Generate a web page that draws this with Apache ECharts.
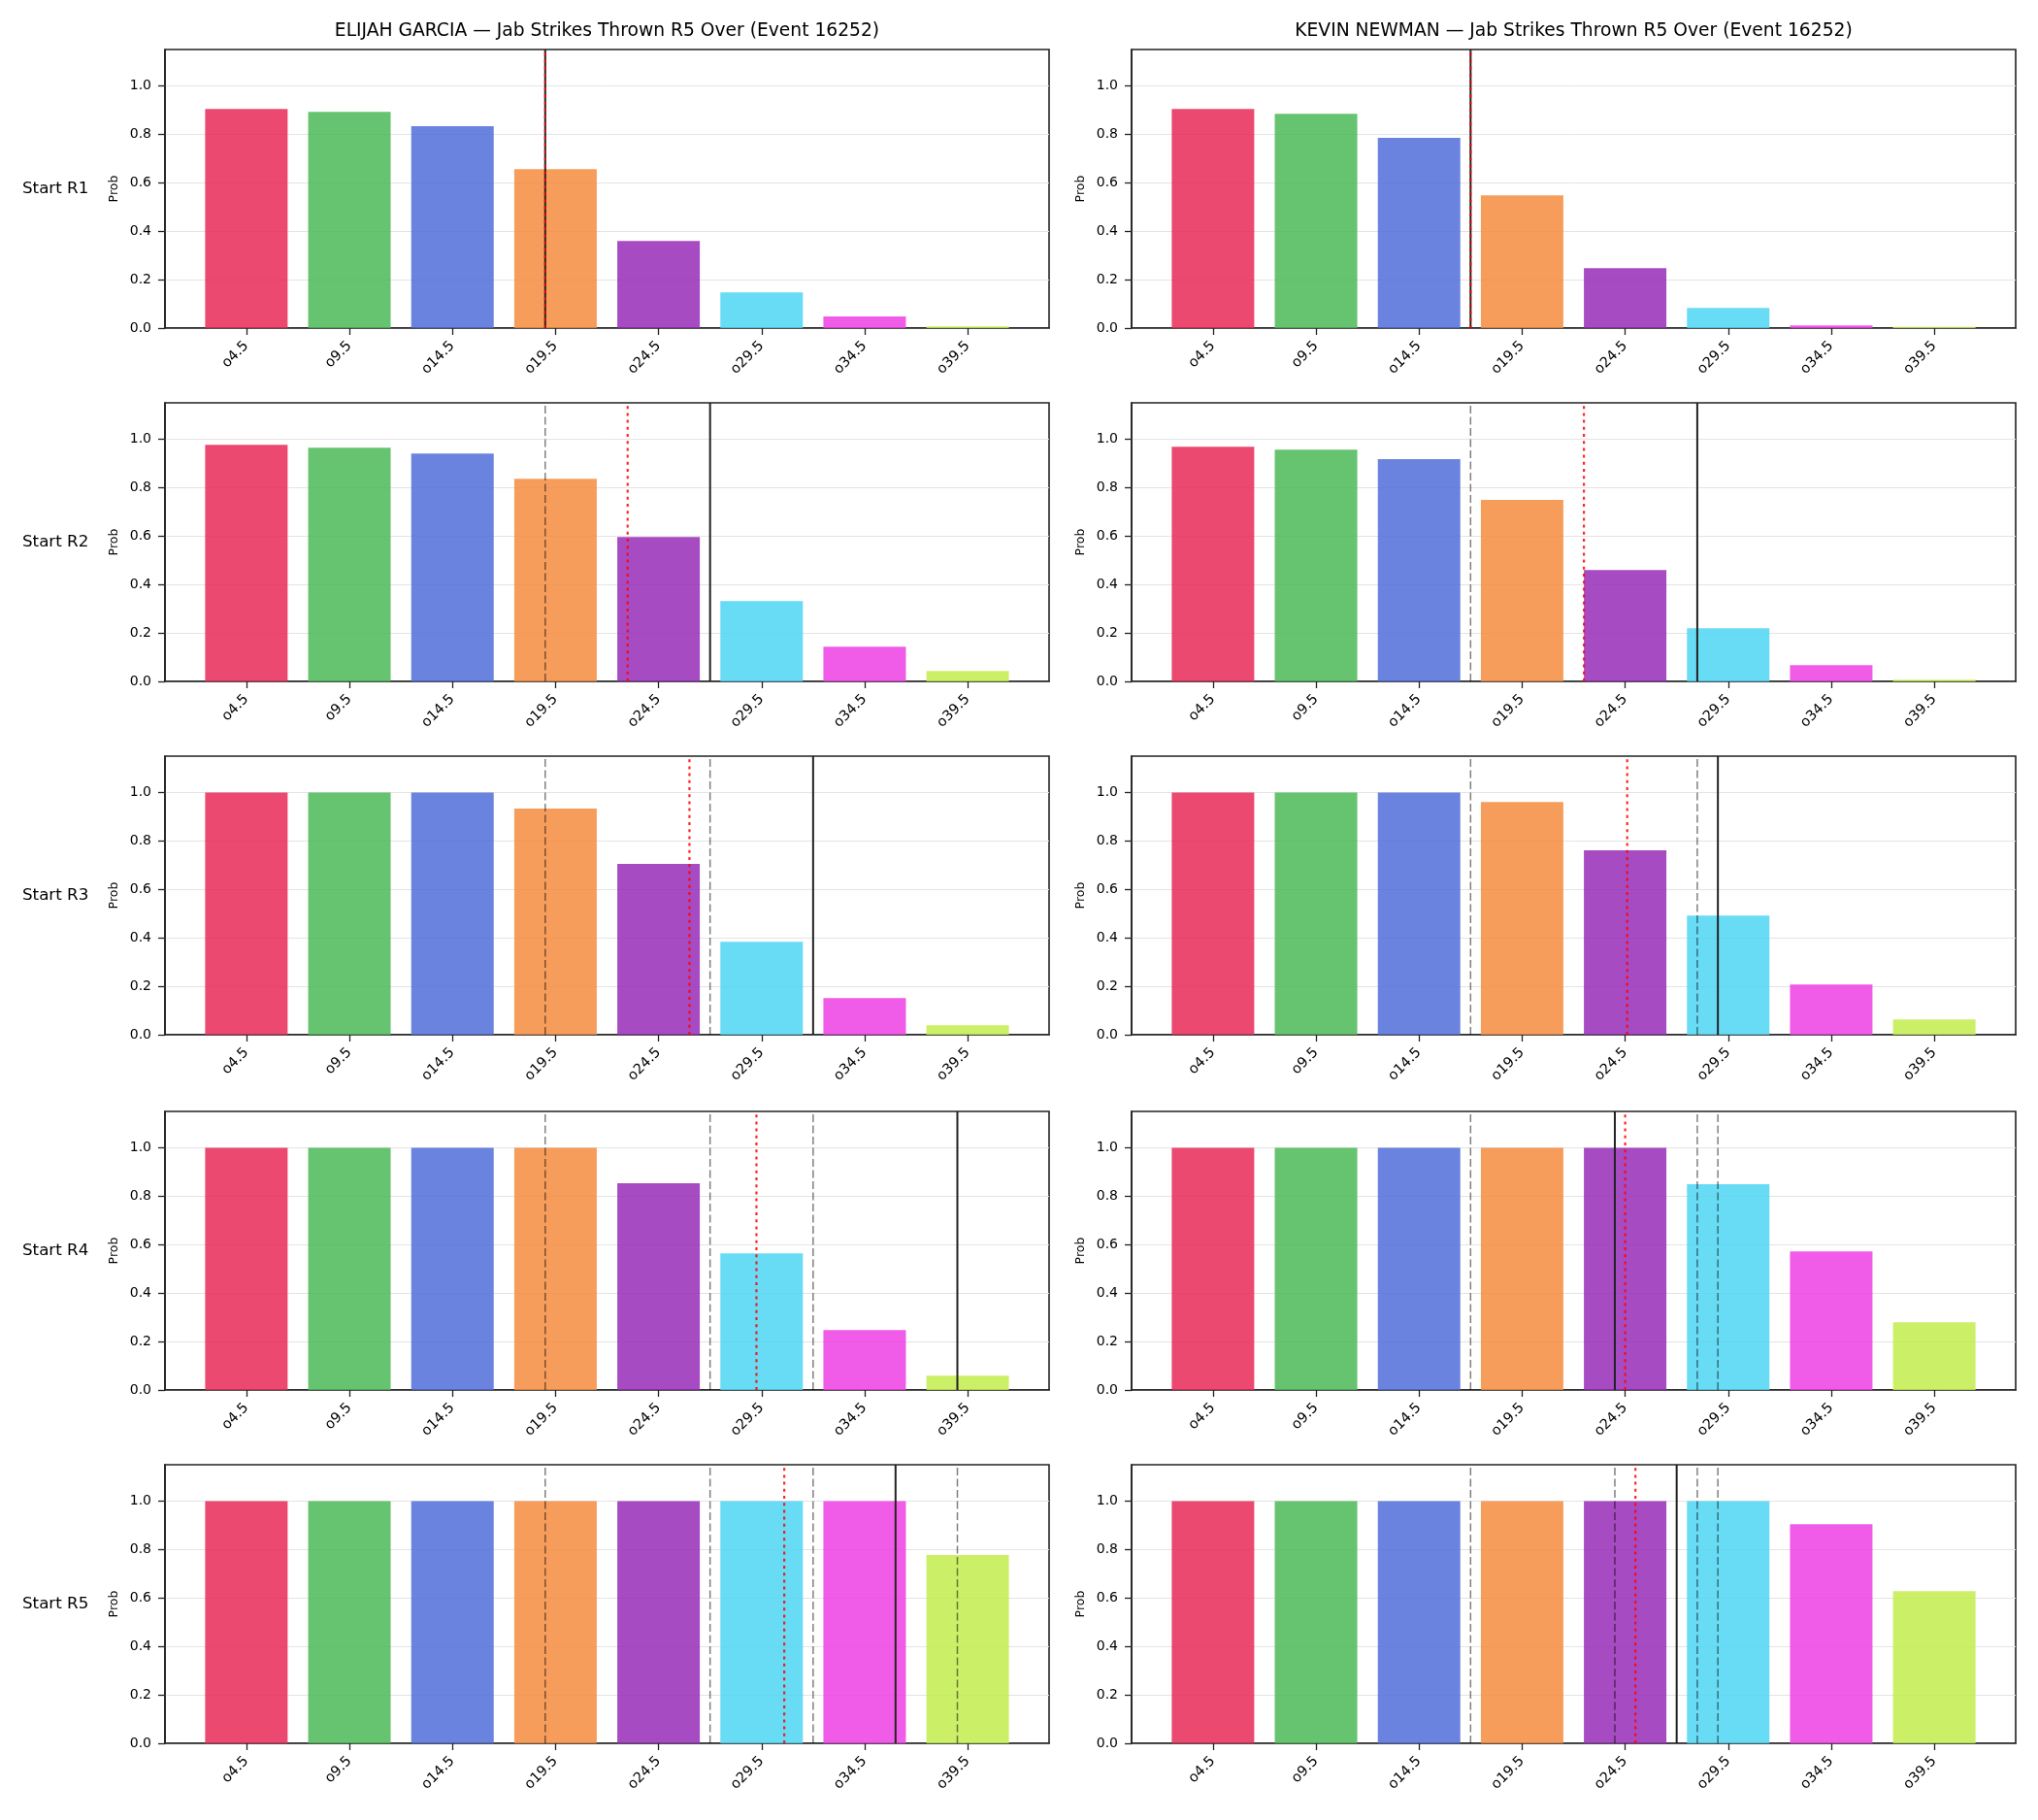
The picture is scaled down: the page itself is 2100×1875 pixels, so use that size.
<!DOCTYPE html>
<html>
<head>
<meta charset="utf-8">
<script src="https://cdn.jsdelivr.net/npm/echarts@6/dist/echarts.min.js"></script>
<style>
  html, body { margin: 0; background: #fff; }
  #chart { width: 2100px; height: 1875px; }
</style>
</head>
<body>
<div id="chart"></div>
<script>
// tick labels / lines
const categories = ['o4.5', 'o9.5', 'o14.5', 'o19.5', 'o24.5', 'o29.5', 'o34.5', 'o39.5'];
const lineValues = [4.5, 9.5, 14.5, 19.5, 24.5, 29.5, 34.5, 39.5];
const barColors = ['#E92957', '#4BB856', '#506DD8', '#F48C3E', '#962CB6', '#4DD5F3', '#ED3EE4', '#C3EC4D'];
const fighters = ['ELIJAH GARCIA', 'KEVIN NEWMAN'];
const rowLabels = ['Start R1', 'Start R2', 'Start R3', 'Start R4', 'Start R5'];
const yTicks = [0, 0.2, 0.4, 0.6, 0.8, 1.0];

// over probabilities, one array per starting round
const garciaR1 = [0.905, 0.893, 0.833, 0.656, 0.360, 0.147, 0.048, 0.007];
const garciaR2 = [0.977, 0.965, 0.941, 0.836, 0.596, 0.332, 0.143, 0.043];
const garciaR3 = [1.0, 1.0, 1.0, 0.934, 0.705, 0.384, 0.151, 0.039];
const garciaR4 = [1.0, 1.0, 1.0, 1.0, 0.853, 0.564, 0.247, 0.059];
const garciaR5 = [1.0, 1.0, 1.0, 1.0, 1.0, 1.0, 1.0, 0.777];

const newmanR1 = [0.905, 0.885, 0.785, 0.548, 0.247, 0.083, 0.011, 0.005];
const newmanR2 = [0.969, 0.957, 0.918, 0.749, 0.460, 0.219, 0.067, 0.007];
const newmanR3 = [1.0, 1.0, 1.0, 0.961, 0.761, 0.492, 0.207, 0.063];
const newmanR4 = [1.0, 1.0, 1.0, 1.0, 1.0, 0.849, 0.572, 0.279];
const newmanR5 = [1.0, 1.0, 1.0, 1.0, 1.0, 1.0, 0.905, 0.628];

// strike counts marked by vertical lines (solid = current, dotted = projection)
const garciaCurrent = [19, 27, 32, 39, 36];
const garciaProjected = [19, 23, 26, 29.25, 30.6];
const newmanCurrent = [17, 28, 29, 24, 27];
const newmanProjected = [17, 22.5, 24.6, 24.5, 25.0];

const panels = [
  { probs: [garciaR1, garciaR2, garciaR3, garciaR4, garciaR5], current: garciaCurrent, projected: garciaProjected },
  { probs: [newmanR1, newmanR2, newmanR3, newmanR4, newmanR5], current: newmanCurrent, projected: newmanProjected }
];

const FONT = 'DejaVu Sans';
const colLeft = [170, 1166];
const colWidth = 911;
const rowTop = [51, 415, 779, 1145, 1509];
const rowHeight = 287;

// count -> bar position on the x axis
function toPos(v) {
  return (v - lineValues[0]) / (lineValues[1] - lineValues[0]);
}

const chart = echarts.init(document.getElementById('chart'));
const grid = [], xAxis = [], yAxis = [], series = [], graphic = [];

function vline(idx, v, style, z) {
  const x = toPos(v);
  series.push({
    type: 'line',
    xAxisIndex: idx,
    yAxisIndex: idx,
    data: [[x, 0], [x, 1.15]],
    symbol: 'none',
    silent: true,
    animation: false,
    z: z,
    lineStyle: style
  });
}

panels.forEach((p, c) => {
  graphic.push({
    type: 'text',
    x: colLeft[c] + colWidth / 2,
    y: 32,
    style: {
      text: fighters[c] + ' \u2014 Jab Strikes Thrown R5 Over (Event 16252)',
      font: '18.7px "' + FONT + '"',
      fill: '#000',
      align: 'center',
      verticalAlign: 'middle'
    }
  });
  p.probs.forEach((probs, r) => {
    const idx = grid.length;
    grid.push({
      left: colLeft[c],
      top: rowTop[r],
      width: colWidth,
      height: rowHeight,
      show: true,
      borderColor: '#222',
      borderWidth: 1.6,
      backgroundColor: 'transparent'
    });
    xAxis.push({
      type: 'value',
      gridIndex: idx,
      min: -0.79,
      max: 7.79,
      axisLine: { show: true, onZero: false, lineStyle: { color: '#222', width: 1.6 } },
      axisTick: { show: true, customValues: [0, 1, 2, 3, 4, 5, 6, 7], length: 7, lineStyle: { color: '#222', width: 1.3 } },
      axisLabel: {
        customValues: [0, 1, 2, 3, 4, 5, 6, 7],
        formatter: v => categories[Math.round(v)],
        rotate: 45,
        margin: 16,
        fontSize: 14.5,
        color: '#000',
        fontFamily: FONT
      },
      splitLine: { show: false }
    });
    yAxis.push({
      type: 'value',
      gridIndex: idx,
      min: 0,
      max: 1.15,
      interval: 0.2,
      name: 'Prob',
      nameLocation: 'middle',
      nameGap: 46,
      nameTextStyle: { fontSize: 12.5, color: '#000', fontFamily: FONT },
      axisLine: { show: true, onZero: false, lineStyle: { color: '#222', width: 1.6 } },
      axisTick: { show: true, customValues: yTicks, length: 7, lineStyle: { color: '#222', width: 1.3 } },
      axisLabel: {
        customValues: yTicks,
        formatter: v => v.toFixed(1),
        margin: 14,
        fontSize: 14,
        color: '#000',
        fontFamily: FONT
      },
      splitLine: { show: true, lineStyle: { color: '#e4e4e4', width: 1 } }
    });
    series.push({
      type: 'bar',
      xAxisIndex: idx,
      yAxisIndex: idx,
      barWidth: 85,
      animation: false,
      z: 2,
      data: probs.map((v, i) => ({ value: [i, v], itemStyle: { color: barColors[i], opacity: 0.85 } }))
    });
    // earlier rounds' marks, dashed grey
    p.current.slice(0, r).forEach(v => {
      vline(idx, v, { color: 'rgba(0,0,0,0.5)', width: 1.5, type: [8, 3.5] }, 3);
    });
    vline(idx, p.current[r], { color: '#222', width: 2 }, 4);
    vline(idx, p.projected[r], { color: 'rgba(255,0,0,0.85)', width: 2.2, type: [3, 4.2] }, 5);

    if (c === 0) {
      graphic.push({
        type: 'text',
        x: 23,
        y: rowTop[r] + rowHeight / 2,
        style: {
          text: rowLabels[r],
          font: '16.7px "' + FONT + '"',
          fill: '#000',
          align: 'left',
          verticalAlign: 'middle'
        }
      });
    }
  });
});

chart.setOption({
  backgroundColor: '#fff',
  animation: false,
  textStyle: { fontFamily: FONT },
  grid: grid,
  xAxis: xAxis,
  yAxis: yAxis,
  series: series,
  graphic: graphic
});
</script>
</body>
</html>
